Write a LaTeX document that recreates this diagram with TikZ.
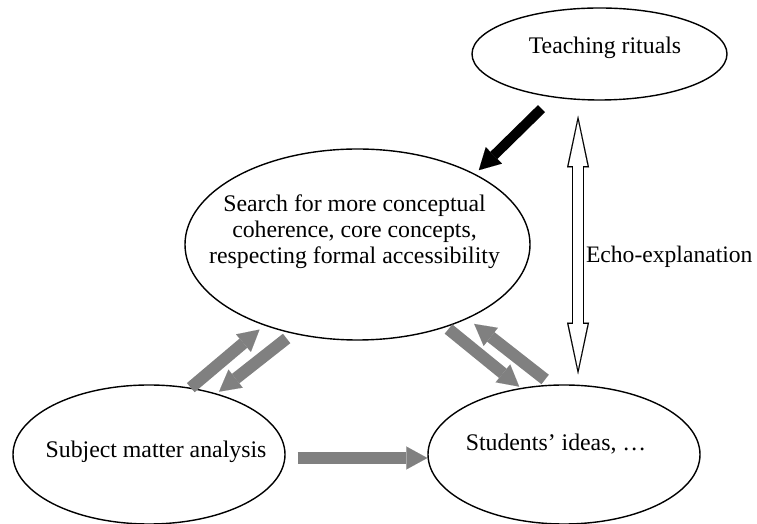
\documentclass[tikz,border=0pt]{standalone}
\usepackage{fontspec}
\setmainfont{Liberation Serif}
\usetikzlibrary{shapes.geometric,arrows.meta}

% text inside a bubble, shifted sideways by the optional argument
\newcommand{\bubbletext}[2][0pt]{\makebox[0pt]{\hspace*{#1}\begin{tabular}[b]{@{}c@{}}#2\end{tabular}\hspace*{-#1}}}

\begin{document}
\begin{tikzpicture}[>=latex,thick,x=1pt,y=1pt,
  bubble/.style={ellipse, draw, line width=1.4pt, inner sep=0pt,
    font=\fontsize{23.8}{26}\selectfont},
  grayarrow/.style={draw=gray, line width=12pt,
    -{Triangle[width=23pt,length=21pt,line width=0.01pt]}},
  blackarrow/.style={draw=black, line width=10pt,
    -{Triangle[width=23pt,length=21pt,line width=0.01pt]}},
  hollowout/.style={draw=black, line width=12pt,
    {Triangle[width=22pt,length=51.7pt,line width=0.01pt]}-{Triangle[width=22pt,length=51.7pt,line width=0.01pt]}},
  hollowin/.style={draw=white, line width=9.4pt,
    {Triangle[width=18.6pt,length=44.4pt,line width=0.01pt]}-{Triangle[width=18.6pt,length=44.4pt,line width=0.01pt]}}]
  \useasboundingbox (0,0) rectangle (757,524);

  % Nodes
  \node[bubble, minimum width=255pt, minimum height=92pt, text height=0pt, text depth=1.4pt]
    (rituals) at (599.5,470) {\bubbletext[5.5pt]{Teaching rituals}};
  \node[bubble, minimum width=345pt, minimum height=191pt, text height=37.6pt, text depth=0pt]
    (search) at (357.5,279.5) {\bubbletext[-3pt]{Search for more conceptual\\ coherence, core concepts,\\ respecting formal accessibility}};
  \node[bubble, minimum width=272pt, minimum height=139pt, text height=7pt, text depth=0pt]
    (subject) at (149,69.5) {\bubbletext[7pt]{Subject matter analysis}};
  \node[bubble, minimum width=272pt, minimum height=139pt, text height=0pt, text depth=7pt]
    (students) at (564,69.5) {\bubbletext[-8pt]{Students’ ideas, …}};

  % Arrows
  \draw[grayarrow, shorten >=6.2pt] (subject.58.3) -- (search.221);
  \draw[grayarrow, shorten <=7.7pt, shorten >=3pt] (search.234.5) -- (subject.42.3);
  \draw[grayarrow, shorten <=3pt, shorten >=2pt] (search.317.9) -- (students.123.8);
  \draw[grayarrow, shorten <=8.3pt, shorten >=8.4pt] (students.100.3) -- (search.326.6);
  \draw[grayarrow, shorten <=12pt] ([yshift=-3.5pt]subject.east) -- ([yshift=-3.5pt]students.west);
  \draw[blackarrow, shorten <=15.9pt, shorten >=5.3pt] (rituals.223.8) -- (search.31.5);
  \draw[hollowout, shorten <=15.6pt, shorten >=10.4pt] (rituals.245.7) -- (rituals.245.7 |- students.77.75)
    node[pos=0.55, anchor=west, xshift=2pt, inner sep=0pt, font=\fontsize{23.6}{26}\selectfont] (echo) {Echo-explanation};
  \draw[hollowin, shorten <=21.4pt, shorten >=16.2pt] (rituals.245.7) -- (rituals.245.7 |- students.77.75);
\end{tikzpicture}
\end{document}
